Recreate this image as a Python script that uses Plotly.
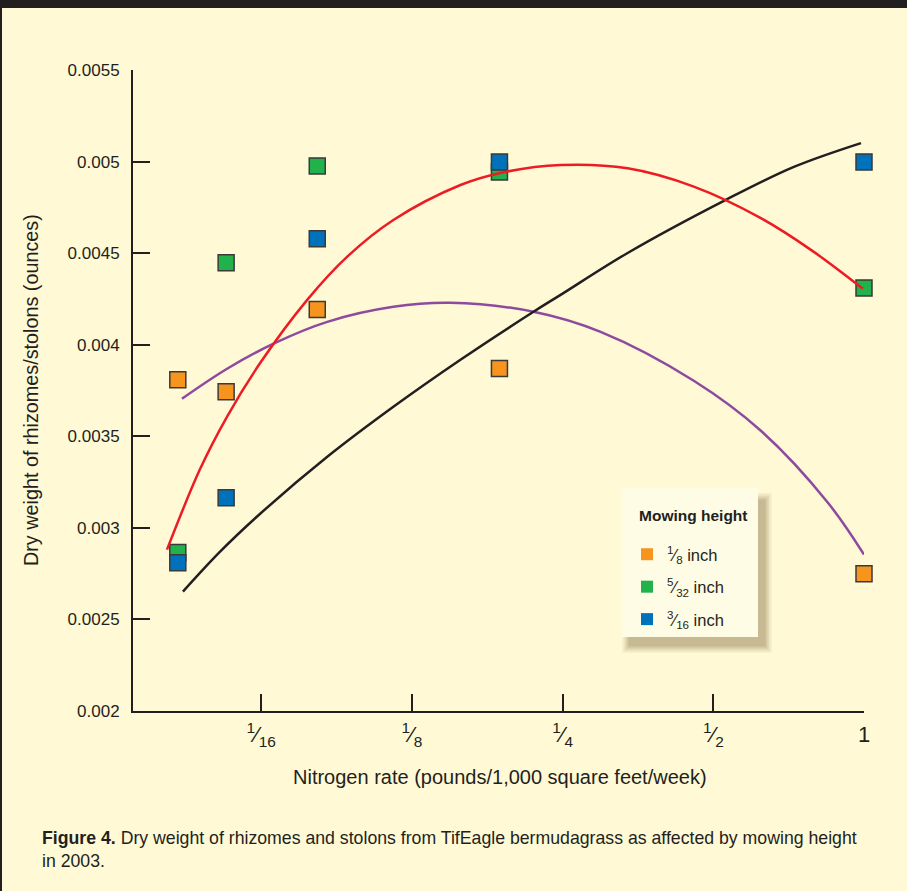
import plotly.graph_objects as go

# ---------------- data ----------------
nitrogen_rate = [0.0426, 0.0532, 0.0809, 0.187, 1.0]          # pounds/1,000 sq ft/week
weight_eighth = [0.003809, 0.003743, 0.004192, 0.003870, 0.002750]   # 1/8 inch
weight_5_32 = [0.002865, 0.004447, 0.004976, 0.004943, 0.004310]     # 5/32 inch
weight_3_16 = [0.002810, 0.003165, 0.004578, 0.004998, 0.004998]     # 3/16 inch

# fitted curves
red_x = [0.04053, 0.04719, 0.05344, 0.06221, 0.07725, 0.09287, 0.1148, 0.1563, 0.1879, 0.2477,
         0.3372, 0.4571, 0.6223, 0.7834, 0.9954]
red_y = [0.002881, 0.003321, 0.003608, 0.003900, 0.004245, 0.004481, 0.004681, 0.004872, 0.004938, 0.004981,
         0.004963, 0.004863, 0.004691, 0.004518, 0.004305]
black_x = [0.04362, 0.05174, 0.06221, 0.08471, 0.1148, 0.1563, 0.2187, 0.2477, 0.3372, 0.5297, 0.7244, 0.9862]
black_y = [0.002652, 0.002870, 0.003077, 0.003388, 0.003661, 0.003918, 0.004180, 0.004272, 0.004501, 0.004791,
           0.004971, 0.005101]
purple_x = [0.04342, 0.05344, 0.06666, 0.08471, 0.1148, 0.1492, 0.2187, 0.2978, 0.4571, 0.6223, 0.8472, 1.0]
purple_y = [0.003705, 0.003869, 0.004010, 0.004125, 0.004207, 0.004229, 0.004180, 0.004070, 0.003803, 0.003530,
            0.003137, 0.002854]

x_tickvals = [1/16, 1/8, 1/4, 1/2, 1]
x_ticktext = ["<sup>1</sup>⁄<sub>16</sub>", "<sup>1</sup>⁄<sub>8</sub>", "<sup>1</sup>⁄<sub>4</sub>", "<sup>1</sup>⁄<sub>2</sub>", "1"]
y_tickvals = [0.002, 0.0025, 0.003, 0.0035, 0.004, 0.0045, 0.005, 0.0055]
y_ticktext = ["0.002", "0.0025", "0.003", "0.0035", "0.004", "0.0045", "0.005", "0.0055"]
series_names = ["<sup>1</sup>⁄<sub>8</sub> inch", "<sup>5</sup>⁄<sub>32</sub> inch", "<sup>3</sup>⁄<sub>16</sub> inch"]
legend_title = "Mowing height"
x_title = "Nitrogen rate (pounds/1,000 square feet/week)"
y_title = "Dry weight of rhizomes/stolons (ounces)"
caption = ("<b>Figure 4.</b> Dry weight of rhizomes and stolons from TifEagle bermudagrass as affected by mowing height"
           "<br>in 2003.")

# ---------------- style ----------------
W, H = 907, 891
L, R, T, B = 133, 43, 70, 180
CREAM = "#FFF9D5"
DARK = "#231F20"
FONT = "Liberation Sans, Arial, Helvetica, sans-serif"
COLORS = ["#F7941D", "#22B24C", "#0072BC"]

def px(x):
    return (x - L) / (W - L - R)

def py(y):
    return (H - B - y) / (H - T - B)

fig = go.Figure()

for vals, col in zip([weight_eighth, weight_5_32, weight_3_16], COLORS):
    fig.add_trace(go.Scatter(
        x=nitrogen_rate, y=vals, mode="markers", showlegend=False, cliponaxis=False,
        marker=dict(symbol="square", size=16, color=col, line=dict(color="#3A3A3A", width=1.5)),
    ))

for xs, ys, col in [(purple_x, purple_y, "#8E4A9E"), (black_x, black_y, DARK), (red_x, red_y, "#ED1C24")]:
    fig.add_trace(go.Scatter(
        x=xs, y=ys, mode="lines", showlegend=False, cliponaxis=False,
        line=dict(color=col, width=2.5, shape="spline", smoothing=1.0),
    ))

for i, (name, col) in enumerate(zip(series_names, COLORS)):
    fig.add_trace(go.Scatter(
        x=[None], y=[None], mode="markers", name=name, legendgroup=f"g{i}",
        marker=dict(symbol="square", size=12, color=col),
    ))

shapes = []
shapes.append(dict(type="rect", xref="paper", yref="paper", layer="below",
                   x0=px(2), x1=px(W + 5), y0=py(H + 5), y1=py(8),
                   fillcolor=CREAM, line=dict(width=0)))
# legend shadow (soft)
for k, a in enumerate([0.07, 0.10, 0.13, 0.16, 0.2]):
    g = 7 - 1.6 * k
    shapes.append(dict(type="rect", xref="paper", yref="paper", layer="below",
                       x0=px(622 + 7 - g), x1=px(758 + 7 + g), y0=py(637 + 9 + g), y1=py(488 + 12 - g),
                       fillcolor=f"rgba(150,128,85,{a})", line=dict(width=0)))
# legend box
shapes.append(dict(type="rect", xref="paper", yref="paper", layer="below",
                   x0=px(622), x1=px(758), y0=py(637), y1=py(488),
                   fillcolor="#FFFCE6", line=dict(width=0)))

annotations = [
    dict(text=x_title, xref="paper", yref="paper",
         x=px(500), y=py(777), xanchor="center", yanchor="middle", showarrow=False,
         font=dict(family=FONT, size=20, color=DARK)),
    dict(text=y_title, xref="paper", yref="paper",
         x=px(31), y=py(390), xanchor="center", yanchor="middle", textangle=-90, showarrow=False,
         font=dict(family=FONT, size=19.8, color=DARK)),
    dict(text=caption, xref="paper", yref="paper", x=px(40), y=py(826), xanchor="left", yanchor="top",
         align="left", showarrow=False, font=dict(family=FONT, size=17.7, color=DARK)),
    dict(text=f"<b>{legend_title}</b>", xref="paper", yref="paper", x=px(637), y=py(515),
         xanchor="left", yanchor="middle", showarrow=False,
         font=dict(family=FONT, size=15.5, color=DARK)),
]

fig.update_layout(
    width=W, height=H, autosize=False,
    margin=dict(l=L, r=R, t=T, b=B, pad=0),
    paper_bgcolor=DARK, plot_bgcolor="rgba(0,0,0,0)",
    shapes=shapes, annotations=annotations,
    showlegend=True,
    legend=dict(x=px(627), y=py(537), xanchor="left", yanchor="top",
                bgcolor="rgba(0,0,0,0)", borderwidth=0, tracegroupgap=8,
                font=dict(family=FONT, size=16.5, color=DARK), itemsizing="constant"),
    xaxis=dict(type="log", range=[-1.4601, 0.0], tickvals=x_tickvals, ticktext=x_ticktext,
               showgrid=False, zeroline=False, showline=True, linecolor=DARK, linewidth=2,
               ticks="inside", ticklen=17, tickwidth=2, tickcolor=DARK, ticklabelstandoff=3,
               tickfont=dict(family=FONT, size=22, color=DARK)),
    yaxis=dict(range=[0.002, 0.0055], tickvals=y_tickvals, ticktext=y_ticktext,
               showgrid=False, zeroline=False, showline=True, linecolor=DARK, linewidth=2,
               ticks="inside", ticklen=17, tickwidth=2, tickcolor=DARK, ticklabelstandoff=8,
               tickfont=dict(family=FONT, size=17, color=DARK)),
)

fig.write_html("out.html", config={"displayModeBar": False},
               post_script="document.body.style.margin='0';document.body.style.background='#231F20';")
